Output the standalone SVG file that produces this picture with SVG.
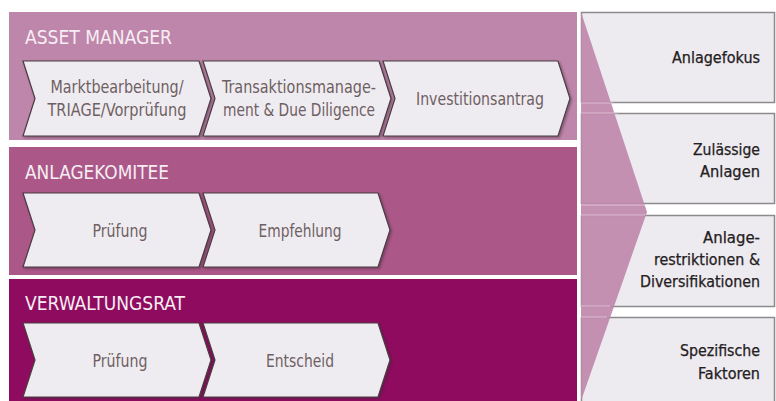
<svg xmlns="http://www.w3.org/2000/svg" width="776" height="401" viewBox="0 0 776 401">
  <defs>
    <style>
      .band-title { font-family: "Liberation Sans Narrow", "DejaVu Sans Condensed", "Liberation Sans", sans-serif; font-size: 20px; fill: #f6eef3; }
      .step { fill: #efecf1; stroke: #4a3c42; stroke-width: 1.2; filter: url(#shadow); }
      .step-text { font-family: "Liberation Sans Narrow", "DejaVu Sans Condensed", "Liberation Sans", sans-serif; font-size: 17px; fill: #6e6062; text-anchor: middle; }
      .crit { fill: #eeebf0; stroke: #8c8a8c; stroke-width: 1.5; }
      .crit-text { font-family: "Liberation Sans Narrow", "DejaVu Sans Condensed", "Liberation Sans", sans-serif; font-size: 15px; fill: #242022; text-anchor: end; stroke: #242022; stroke-width: 0.25; }
    </style>
    <filter id="shadow" x="-5%" y="-10%" width="115%" height="130%">
      <feDropShadow dx="1.5" dy="1.5" stdDeviation="1.2" flood-color="#3a2030" flood-opacity="0.45"/>
    </filter>
  </defs>

  <rect width="776" height="401" fill="#ffffff"/>

  <!-- Process bands -->
  <g id="band-asset-manager">
    <rect x="9" y="12" width="568" height="128" fill="#bf86ab"/>
    <text class="band-title" x="25" y="44" textLength="147" lengthAdjust="spacingAndGlyphs">ASSET MANAGER</text>
  </g>
  <g id="band-anlagekomitee">
    <rect x="9" y="147" width="568" height="128" fill="#ab5889"/>
    <text class="band-title" x="25" y="179" textLength="144" lengthAdjust="spacingAndGlyphs">ANLAGEKOMITEE</text>
  </g>
  <g id="band-verwaltungsrat">
    <rect x="9" y="279" width="568" height="122" fill="#8f0b5f"/>
    <text class="band-title" x="25" y="310" textLength="160" lengthAdjust="spacingAndGlyphs">VERWALTUNGSRAT</text>
  </g>

  <!-- Steps: Asset Manager -->
  <g id="step-marktbearbeitung">
    <path class="step" d="M23,61 H199 L211,98.5 L199,136 H23 L35,98.5 Z"/>
    <text class="step-text" x="117" y="93" textLength="133" lengthAdjust="spacingAndGlyphs">Marktbearbeitung/</text>
    <text class="step-text" x="117" y="116" textLength="139" lengthAdjust="spacingAndGlyphs">TRIAGE/Vorprüfung</text>
  </g>
  <g id="step-transaktionsmanagement">
    <path class="step" d="M203,61 H379 L391,98.5 L379,136 H203 L215,98.5 Z"/>
    <text class="step-text" x="299" y="93" textLength="154" lengthAdjust="spacingAndGlyphs">Transaktionsmanage-</text>
    <text class="step-text" x="299" y="116" textLength="152" lengthAdjust="spacingAndGlyphs">ment &amp; Due Diligence</text>
  </g>
  <g id="step-investitionsantrag">
    <path class="step" d="M383,61 H558 L570,98.5 L558,136 H383 L395,98.5 Z"/>
    <text class="step-text" x="480" y="105" textLength="128" lengthAdjust="spacingAndGlyphs">Investitionsantrag</text>
  </g>

  <!-- Steps: Anlagekomitee -->
  <g id="step-ak-pruefung">
    <path class="step" d="M23,193 H199 L211,230 L199,267 H23 L35,230 Z"/>
    <text class="step-text" x="120" y="237" textLength="55" lengthAdjust="spacingAndGlyphs">Prüfung</text>
  </g>
  <g id="step-empfehlung">
    <path class="step" d="M203,193 H378 L390,230 L378,267 H203 L215,230 Z"/>
    <text class="step-text" x="300" y="237" textLength="83" lengthAdjust="spacingAndGlyphs">Empfehlung</text>
  </g>

  <!-- Steps: Verwaltungsrat -->
  <g id="step-vr-pruefung">
    <path class="step" d="M23,323 H199 L211,360 L199,397 H23 L35,360 Z"/>
    <text class="step-text" x="120" y="367" textLength="55" lengthAdjust="spacingAndGlyphs">Prüfung</text>
  </g>
  <g id="step-entscheid">
    <path class="step" d="M203,323 H378 L390,360 L378,397 H203 L215,360 Z"/>
    <text class="step-text" x="300" y="367" textLength="68" lengthAdjust="spacingAndGlyphs">Entscheid</text>
  </g>

  <!-- Investment criteria column -->
  <g id="crit-anlagefokus">
    <rect class="crit" x="581.5" y="12.5" width="193" height="90"/>
    <text class="crit-text" x="760" y="63" textLength="88" lengthAdjust="spacingAndGlyphs">Anlagefokus</text>
  </g>
  <g id="crit-zulaessige-anlagen">
    <rect class="crit" x="581.5" y="113.5" width="193" height="90"/>
    <text class="crit-text" x="760" y="155" textLength="67" lengthAdjust="spacingAndGlyphs">Zulässige</text>
    <text class="crit-text" x="760" y="177" textLength="60" lengthAdjust="spacingAndGlyphs">Anlagen</text>
  </g>
  <g id="crit-restriktionen">
    <rect class="crit" x="581.5" y="215.5" width="193" height="91"/>
    <text class="crit-text" x="760" y="243" textLength="57" lengthAdjust="spacingAndGlyphs">Anlage-</text>
    <text class="crit-text" x="760" y="265" textLength="106" lengthAdjust="spacingAndGlyphs">restriktionen &amp;</text>
    <text class="crit-text" x="760" y="287" textLength="120" lengthAdjust="spacingAndGlyphs">Diversifikationen</text>
  </g>
  <g id="crit-spezifische-faktoren">
    <rect class="crit" x="581.5" y="317.5" width="193" height="90"/>
    <text class="crit-text" x="760" y="356" textLength="80" lengthAdjust="spacingAndGlyphs">Spezifische</text>
    <text class="crit-text" x="760" y="379" textLength="62" lengthAdjust="spacingAndGlyphs">Faktoren</text>
  </g>

  <!-- Connector: funnel arrow overlaying the criteria column -->
  <g id="connectors">
    <polygon points="581,12 647,212 581,401" fill="#c088ad" fill-opacity="0.92"/>
    <g stroke="#e6cadb" stroke-width="1" opacity="0.8">
      <line x1="581" y1="103" x2="614" y2="103"/>
      <line x1="581" y1="113" x2="618" y2="113"/>
      <line x1="581" y1="205" x2="645" y2="205"/>
      <line x1="581" y1="215" x2="645" y2="215"/>
      <line x1="581" y1="306" x2="610" y2="306"/>
      <line x1="581" y1="317" x2="607" y2="317"/>
    </g>
  </g>
</svg>
